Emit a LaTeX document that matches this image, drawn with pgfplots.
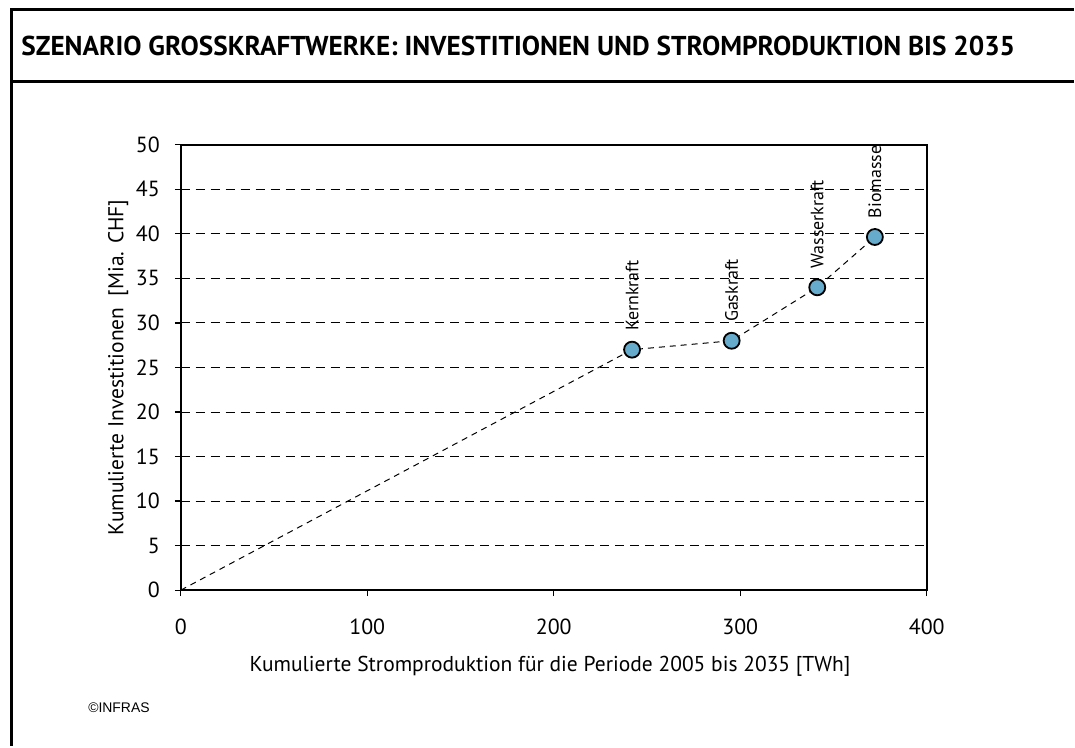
\documentclass[border=0pt]{standalone}
\usepackage{pgfplots}
\pgfplotsset{compat=1.18}
\usepackage{pgfplotstable}
\usepackage{fontspec}
\setmainfont{PT Sans}
\newfontfamily\arialfont{Liberation Sans}

\definecolor{markblue}{RGB}{102,170,204}

% cumulated production [TWh] vs cumulated investment [bn CHF]
\pgfplotstableread{
x y
0 0
242 27.0
295.4 28.0
341.3 34.0
372.2 39.65
}\linedata

\pgfplotstableread{
x y label
242 27.0 Kernkraft
295.4 28.0 Gaskraft
341.3 34.0 Wasserkraft
372.2 39.65 Biomasse
}\pointdata

\begin{document}
\begin{tikzpicture}[x=0.5bp,y=0.5bp]
% page extent
\path (0,0) rectangle (1075,747);
% frame and title bar
\draw[line width=1.5bp] (12,0) -- (12,737) -- (1075,737);
\draw[line width=1.5bp] (12,665) -- (1075,665);
\node[anchor=west,inner sep=0pt,font=\bfseries\fontsize{13.7}{16}\selectfont] at (21,701)
  {SZENARIO GROSSKRAFTWERKE: INVESTITIONEN UND STROMPRODUKTION BIS 2035};
\node[anchor=west,inner sep=0pt,font=\arialfont\fontsize{7}{8}\selectfont] at (88,38) {©INFRAS};

\begin{axis}[
    at={(90.5bp,78bp)}, anchor=south west,
    scale only axis,
    width=373.5bp, height=223bp,
    xmin=0, xmax=400, ymin=0, ymax=50,
    xtick={0,100,200,300,400},
    ytick={0,5,...,50},
    xtick pos=bottom, ytick pos=left,
    tick align=outside,
    major tick length=3bp,
    tick style={line width=0.6bp, black},
    axis line style={line width=0.8bp},
    ymajorgrids,
    grid style={black, line width=0.5bp, dash pattern=on 4.5bp off 3bp},
    /pgf/number format/assume math mode=true,
    tick label style={font=\fontsize{11}{13}\selectfont},
    xticklabel style={yshift=-8bp},
    yticklabel style={xshift=-4bp},
    xlabel={Kumulierte Stromproduktion für die Periode 2005 bis 2035 [TWh]},
    ylabel={Kumulierte Investitionen~~[Mia. CHF]},
    label style={font=\fontsize{10.8}{13}\selectfont},
    xlabel style={at={(axis description cs:0.495,-0.17)}, anchor=center},
    ylabel style={at={(axis description cs:-0.084,0.5)}, anchor=center},
    clip=false,
]
\addplot[black, line width=0.5bp, dash pattern=on 3bp off 2.5bp] table[x=x,y=y] {\linedata};
\addplot[
    only marks,
    mark=*,
    mark size=4bp,
    mark options={fill=markblue, draw=black, line width=0.9bp},
    point meta=explicit symbolic,
    nodes near coords,
    nodes near coords style={rotate=90, anchor=west,
      inner sep=0pt, font=\fontsize{9}{10}\selectfont},
    every node near coord/.append style={xshift=9bp},
] table[x=x,y=y,meta=label] {\pointdata};
\end{axis}
\end{tikzpicture}
\end{document}
